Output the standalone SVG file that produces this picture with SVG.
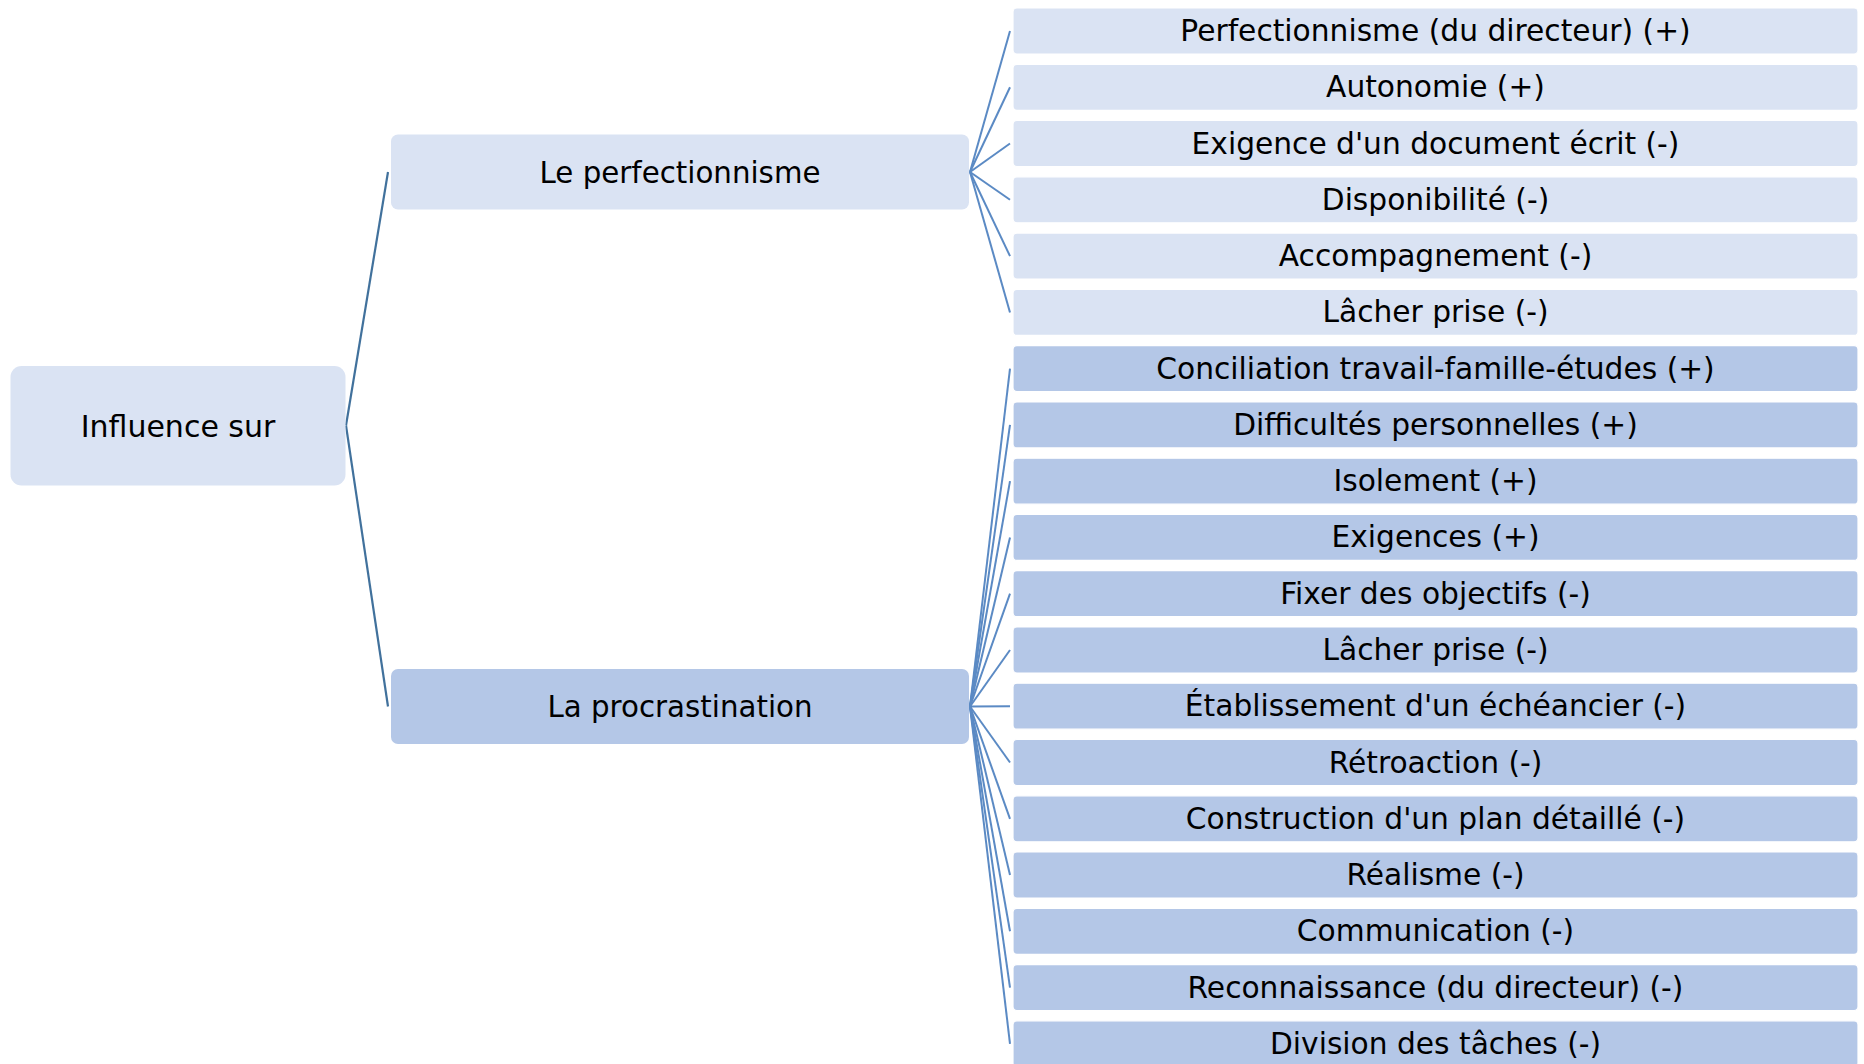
<svg xmlns="http://www.w3.org/2000/svg" width="1864" height="1064" viewBox="0 0 1864 1064">
  <style>
    .t { font-family: "DejaVu Sans", Verdana, sans-serif; fill: #000; text-anchor: middle; }
    .root { font-size: 30px; }
    .mid { font-size: 29.3px; }
    .leaf { font-size: 29.7px; }
    .c1 { fill: #dae3f3; }
    .c2 { fill: #b4c7e7; }
    .leafbox { stroke: #ffffff; stroke-width: 1.2; }
    .lk0 { stroke: #41719c; stroke-width: 2.2; fill: none; }
    .lk { stroke: #5b8ac4; stroke-width: 2; fill: none; }
  </style>

  <!-- connectors -->
  <g id="connectors">
    <line class="lk0" x1="346" y1="425.5" x2="388" y2="172"/>
    <line class="lk0" x1="346" y1="425.5" x2="388" y2="706.5"/>

    <line class="lk" x1="970" y1="172" x2="1010" y2="31"/>
    <line class="lk" x1="970" y1="172" x2="1010" y2="87.3"/>
    <line class="lk" x1="970" y1="172" x2="1010" y2="143.5"/>
    <line class="lk" x1="970" y1="172" x2="1010" y2="199.8"/>
    <line class="lk" x1="970" y1="172" x2="1010" y2="256.1"/>
    <line class="lk" x1="970" y1="172" x2="1010" y2="312.4"/>

    <line class="lk" x1="970" y1="706.5" x2="1010" y2="368.6"/>
    <line class="lk" x1="970" y1="706.5" x2="1010" y2="424.9"/>
    <line class="lk" x1="970" y1="706.5" x2="1010" y2="481.2"/>
    <line class="lk" x1="970" y1="706.5" x2="1010" y2="537.4"/>
    <line class="lk" x1="970" y1="706.5" x2="1010" y2="593.7"/>
    <line class="lk" x1="970" y1="706.5" x2="1010" y2="650"/>
    <line class="lk" x1="970" y1="706.5" x2="1010" y2="706.2"/>
    <line class="lk" x1="970" y1="706.5" x2="1010" y2="762.5"/>
    <line class="lk" x1="970" y1="706.5" x2="1010" y2="818.8"/>
    <line class="lk" x1="970" y1="706.5" x2="1010" y2="875"/>
    <line class="lk" x1="970" y1="706.5" x2="1010" y2="931.3"/>
    <line class="lk" x1="970" y1="706.5" x2="1010" y2="987.6"/>
    <line class="lk" x1="970" y1="706.5" x2="1010" y2="1043.8"/>
  </g>

  <!-- root -->
  <g id="n-influence">
    <rect class="c1" x="10.5" y="366" width="335" height="119.5" rx="11"/>
    <text class="t root" x="178" y="436.5">Influence sur</text>
  </g>

  <!-- second level -->
  <g id="n-perfectionnisme">
    <rect class="c1" x="391" y="134.5" width="578" height="75" rx="7"/>
    <text class="t mid" x="680" y="182.5">Le perfectionnisme</text>
  </g>
  <g id="n-procrastination">
    <rect class="c2" x="391" y="669" width="578" height="75" rx="7"/>
    <text class="t mid" x="680" y="717">La procrastination</text>
  </g>

  <!-- leaves: perfectionnisme -->
  <g id="n-p1"><rect class="c1 leafbox" x="1013" y="8" width="845" height="46" rx="4"/><text class="t leaf" x="1435.5" y="41">Perfectionnisme (du directeur) (+)</text></g>
  <g id="n-p2"><rect class="c1 leafbox" x="1013" y="64.3" width="845" height="46" rx="4"/><text class="t leaf" x="1435.5" y="97.3">Autonomie (+)</text></g>
  <g id="n-p3"><rect class="c1 leafbox" x="1013" y="120.5" width="845" height="46" rx="4"/><text class="t leaf" x="1435.5" y="153.5">Exigence d'un document écrit (-)</text></g>
  <g id="n-p4"><rect class="c1 leafbox" x="1013" y="176.8" width="845" height="46" rx="4"/><text class="t leaf" x="1435.5" y="209.8">Disponibilité (-)</text></g>
  <g id="n-p5"><rect class="c1 leafbox" x="1013" y="233.1" width="845" height="46" rx="4"/><text class="t leaf" x="1435.5" y="266.1">Accompagnement (-)</text></g>
  <g id="n-p6"><rect class="c1 leafbox" x="1013" y="289.4" width="845" height="46" rx="4"/><text class="t leaf" x="1435.5" y="322.4">Lâcher prise (-)</text></g>

  <!-- leaves: procrastination -->
  <g id="n-q1"><rect class="c2 leafbox" x="1013" y="345.6" width="845" height="46" rx="4"/><text class="t leaf" x="1435.5" y="378.6">Conciliation travail-famille-études (+)</text></g>
  <g id="n-q2"><rect class="c2 leafbox" x="1013" y="401.9" width="845" height="46" rx="4"/><text class="t leaf" x="1435.5" y="434.9">Difficultés personnelles (+)</text></g>
  <g id="n-q3"><rect class="c2 leafbox" x="1013" y="458.2" width="845" height="46" rx="4"/><text class="t leaf" x="1435.5" y="491.2">Isolement (+)</text></g>
  <g id="n-q4"><rect class="c2 leafbox" x="1013" y="514.4" width="845" height="46" rx="4"/><text class="t leaf" x="1435.5" y="547.4">Exigences (+)</text></g>
  <g id="n-q5"><rect class="c2 leafbox" x="1013" y="570.7" width="845" height="46" rx="4"/><text class="t leaf" x="1435.5" y="603.7">Fixer des objectifs (-)</text></g>
  <g id="n-q6"><rect class="c2 leafbox" x="1013" y="627" width="845" height="46" rx="4"/><text class="t leaf" x="1435.5" y="660">Lâcher prise (-)</text></g>
  <g id="n-q7"><rect class="c2 leafbox" x="1013" y="683.2" width="845" height="46" rx="4"/><text class="t leaf" x="1435.5" y="716.2">Établissement d'un échéancier (-)</text></g>
  <g id="n-q8"><rect class="c2 leafbox" x="1013" y="739.5" width="845" height="46" rx="4"/><text class="t leaf" x="1435.5" y="772.5">Rétroaction (-)</text></g>
  <g id="n-q9"><rect class="c2 leafbox" x="1013" y="795.8" width="845" height="46" rx="4"/><text class="t leaf" x="1435.5" y="828.8">Construction d'un plan détaillé (-)</text></g>
  <g id="n-q10"><rect class="c2 leafbox" x="1013" y="852" width="845" height="46" rx="4"/><text class="t leaf" x="1435.5" y="885">Réalisme (-)</text></g>
  <g id="n-q11"><rect class="c2 leafbox" x="1013" y="908.3" width="845" height="46" rx="4"/><text class="t leaf" x="1435.5" y="941.3">Communication (-)</text></g>
  <g id="n-q12"><rect class="c2 leafbox" x="1013" y="964.6" width="845" height="46" rx="4"/><text class="t leaf" x="1435.5" y="997.6">Reconnaissance (du directeur) (-)</text></g>
  <g id="n-q13"><rect class="c2 leafbox" x="1013" y="1020.8" width="845" height="46" rx="4"/><text class="t leaf" x="1435.5" y="1053.8">Division des tâches (-)</text></g>
</svg>
